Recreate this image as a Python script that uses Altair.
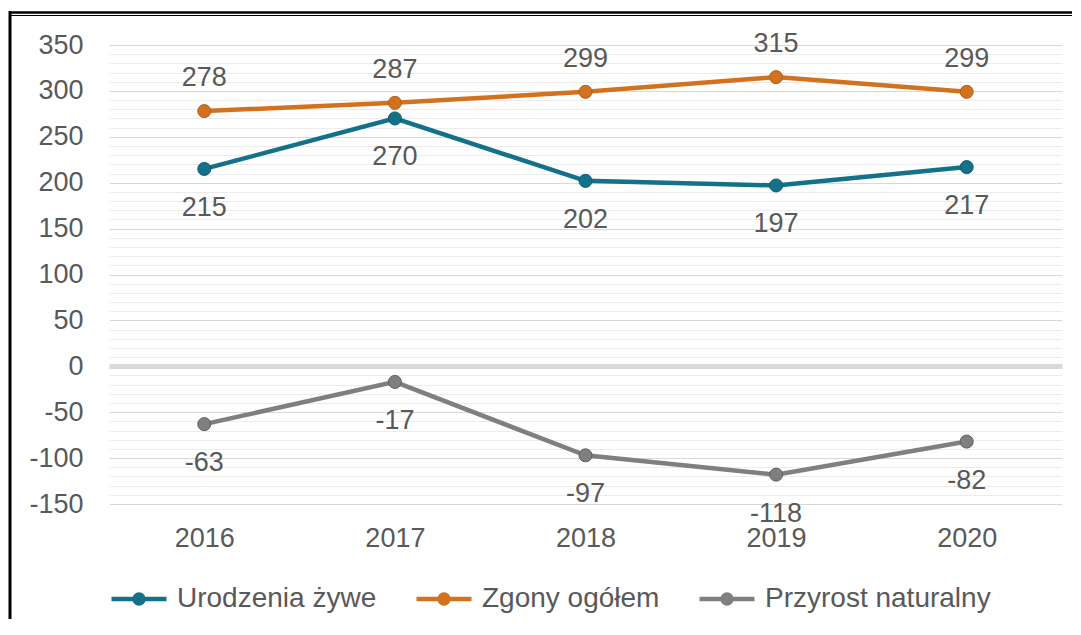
import altair as alt
import pandas as pd

years = ["2016", "2017", "2018", "2019", "2020"]
urodzenia = [215, 270, 202, 197, 217]
zgony = [278, 287, 299, 315, 299]
przyrost = [-63, -17, -97, -118, -82]
series = ["Urodzenia żywe", "Zgony ogółem", "Przyrost naturalny"]
colors = ["#14718A", "#D4711E", "#7F7F7F"]
marker_edge = ["#0F5A6E", "#B35E17", "#5F5F5F"]
above_series = ["Zgony ogółem"]
y_ticks = list(range(-150, 351, 10))

rows = []
for name, vals in zip(series, [urodzenia, zgony, przyrost]):
    for yr, v in zip(years, vals):
        rows.append({"year": yr, "value": v, "label": str(v), "series": name})
df = pd.DataFrame(rows)

FONT = "Liberation Sans"
TXT = "#595959"

x = alt.X(
    "year:O",
    scale=alt.Scale(type="point", padding=0.5),
    axis=alt.Axis(title=None, labelAngle=0, domain=False, ticks=False, tickSize=0,
                  labelPadding=21, labelFontSize=27, labelColor=TXT, labelFont=FONT,
                  grid=False),
)
y = alt.Y(
    "value:Q",
    scale=alt.Scale(domain=[-150, 350], nice=False, zero=False),
    axis=alt.Axis(title=None, values=y_ticks, domain=False, ticks=False, tickSize=0,
                  labelExpr="datum.value % 50 === 0 ? '' + datum.value : ''",
                  labelPadding=26, labelFontSize=27, labelColor=TXT, labelFont=FONT,
                  gridColor=alt.condition("datum.value % 50 === 0", alt.value("#D9D9D9"), alt.value("#ECECEC")),
                  gridWidth=alt.condition("datum.value === 0", alt.value(5), alt.value(1))),
)

color_scale = alt.Scale(domain=series, range=colors)
base = alt.Chart(df)

legend = alt.Legend(
    title=None, orient="none", direction="horizontal", legendX=0, legendY=524,
    symbolType="M-1,0L1,0M-0.16,0A0.16,0.16,0,1,1,0.16,0A0.16,0.16,0,1,1,-0.16,0Z",
    symbolSize=3025, symbolStrokeWidth=4.5, labelFontSize=28, labelColor=TXT,
    labelFont=FONT, labelOffset=8, columnPadding=30, labelLimit=500,
)

lines = base.mark_line(strokeWidth=4.5).encode(
    x=x, y=y,
    color=alt.Color("series:N", scale=color_scale, legend=legend, sort=series),
)

points = base.mark_point(filled=True, size=170, opacity=1, strokeWidth=1).encode(
    x=x, y=y,
    fill=alt.Fill("series:N", scale=color_scale, legend=legend, sort=series),
    stroke=alt.Stroke("series:N", scale=alt.Scale(domain=series, range=marker_edge), legend=None),
)

labels_above = base.transform_filter(
    alt.FieldOneOfPredicate(field="series", oneOf=above_series)
).mark_text(dy=-33, fontSize=27, font=FONT, color=TXT, align="center").encode(
    x=x, y=y, text="label:N"
)
labels_below = base.transform_filter(
    ~alt.FieldOneOfPredicate(field="series", oneOf=above_series)
).mark_text(dy=39, fontSize=27, font=FONT, color=TXT, align="center").encode(
    x=x, y=y, text="label:N"
)

frame_df = pd.DataFrame({"k": [0]})
frame_top = alt.Chart(frame_df).mark_rule(color="black", strokeWidth=2.5).encode(
    x=alt.value(-99), x2=alt.value(980), y=alt.value(-32.5))
frame_top2 = alt.Chart(frame_df).mark_rule(color="black", strokeWidth=1).encode(
    x=alt.value(-99), x2=alt.value(980), y=alt.value(-29.5))
frame_left = alt.Chart(frame_df).mark_rule(color="black", strokeWidth=3).encode(
    x=alt.value(-99), y=alt.value(-34), y2=alt.value(620))

chart = alt.layer(
    lines, points, labels_above, labels_below, frame_top, frame_top2, frame_left
).properties(
    width=953, height=459,
    padding={"left": 101, "top": 37, "right": 10, "bottom": 115},
    autosize=alt.AutoSizeParams(type="none"),
).configure_view(stroke=None)

chart.save("out.html", embed_options={"renderer": "svg", "actions": False})
